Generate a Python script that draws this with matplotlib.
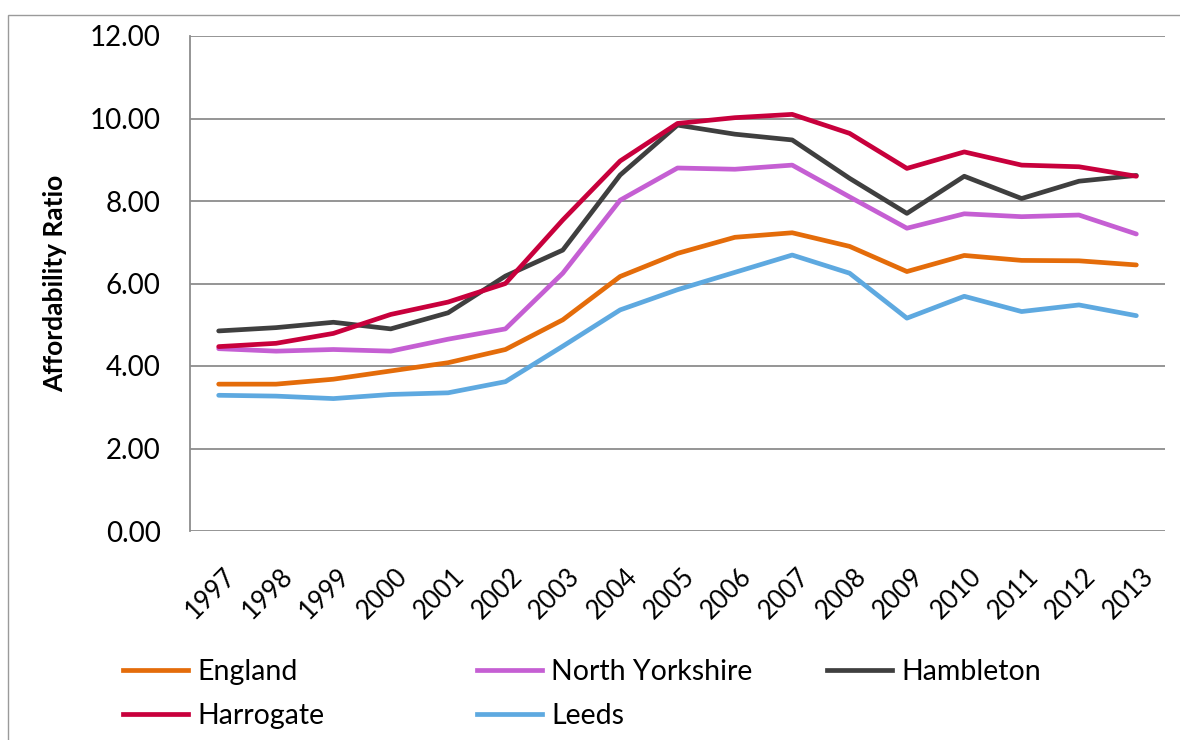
import matplotlib
matplotlib.use("Agg")
import matplotlib.pyplot as plt
from matplotlib.transforms import ScaledTranslation
from matplotlib.patches import Rectangle
from matplotlib.lines import Line2D

plt.rcParams['font.family'] = ['Lato', 'DejaVu Sans']

years = [1997, 1998, 1999, 2000, 2001, 2002, 2003, 2004, 2005, 2006,
         2007, 2008, 2009, 2010, 2011, 2012, 2013]
year_labels = [str(y) for y in years]

england = [3.56, 3.56, 3.68, 3.88, 4.08, 4.40, 5.12, 6.17, 6.73, 7.12,
           7.23, 6.90, 6.29, 6.68, 6.56, 6.55, 6.45]
north_yorkshire = [4.42, 4.36, 4.40, 4.36, 4.65, 4.90, 6.25, 8.02, 8.80, 8.77,
                   8.87, 8.10, 7.34, 7.69, 7.62, 7.66, 7.20]
hambleton = [4.85, 4.93, 5.06, 4.90, 5.29, 6.18, 6.81, 8.63, 9.84, 9.62,
             9.48, 8.55, 7.70, 8.60, 8.06, 8.48, 8.62]
harrogate = [4.47, 4.55, 4.79, 5.25, 5.55, 6.00, 7.54, 8.97, 9.88, 10.02,
             10.10, 9.64, 8.79, 9.19, 8.87, 8.83, 8.60]
leeds = [3.29, 3.27, 3.21, 3.31, 3.35, 3.62, 4.48, 5.36, 5.85, 6.27,
         6.69, 6.25, 5.16, 5.69, 5.32, 5.48, 5.22]

series = [
    ("England", england, "#E46C0A"),
    ("North Yorkshire", north_yorkshire, "#C55FD3"),
    ("Hambleton", hambleton, "#3F3F3F"),
    ("Harrogate", harrogate, "#C8003C"),
    ("Leeds", leeds, "#5EA9E0"),
]

yticks = [0, 2, 4, 6, 8, 10, 12]
ytick_labels = ["%.2f" % v for v in yticks]

fig = plt.figure(figsize=(11.8, 7.4), dpi=100)
fig.patch.set_facecolor("white")

# outer chart border
fig.patches.append(Rectangle((8 / 1180, -0.05), 1.2, 1 - 15 / 740 + 0.05,
                             transform=fig.transFigure, fill=False,
                             edgecolor="#9a9a9a", linewidth=1.0))

ax = fig.add_axes([190 / 1180, 1 - 531 / 740, (1165 - 190) / 1180, (531 - 36) / 740])
ax.set_facecolor("none")

handles = {}
for name, vals, col in series:
    ln, = ax.plot(years, vals, color=col, linewidth=3.4, label=name,
                  solid_joinstyle="round", solid_capstyle="round", zorder=3)
    handles[name] = ln

ax.set_xlim(1996.5, 2013.5)
ax.set_ylim(0, 12)
ax.set_yticks(yticks)
ax.set_yticklabels(ytick_labels, fontsize=20)
ax.set_xticks(years)
ax.set_xticklabels(year_labels, fontsize=18.5, rotation=45, ha="right",
                   va="center", rotation_mode="anchor")
ax.tick_params(axis="both", length=0, colors="black")
ax.tick_params(axis="y", pad=21)
ax.tick_params(axis="x", pad=30)
for lab in ax.get_xticklabels():
    lab.set_transform(lab.get_transform() + ScaledTranslation(13 / 100, 0, fig.dpi_scale_trans))

ax.grid(axis="y", color="#8c8c8c", linewidth=1.3)
ax.set_axisbelow(True)
for s in ["top", "right", "bottom"]:
    ax.spines[s].set_visible(False)
ax.spines["left"].set_color("#8c8c8c")
ax.spines["left"].set_linewidth(1.3)

ax.set_ylabel("Affordability Ratio", fontsize=19, fontweight="bold", labelpad=16)

leg_fs = 20.5
leg_kw = dict(frameon=False, fontsize=leg_fs, handlelength=2.3, handletextpad=0.3,
              borderpad=0, borderaxespad=0, labelspacing=0.62, loc="upper left",
              bbox_transform=fig.transFigure)
cols = [(["England", "Harrogate"], 123), (["North Yorkshire", "Leeds"], 477),
        (["Hambleton"], 827)]
for names, xpix in cols:
    hs = [Line2D([], [], color=handles[n].get_color(), linewidth=3.4) for n in names]
    fig.legend(hs, names, bbox_to_anchor=(xpix / 1180, 1 - 659 / 740), **leg_kw)

fig.savefig("out.png", dpi=100, facecolor="white")
